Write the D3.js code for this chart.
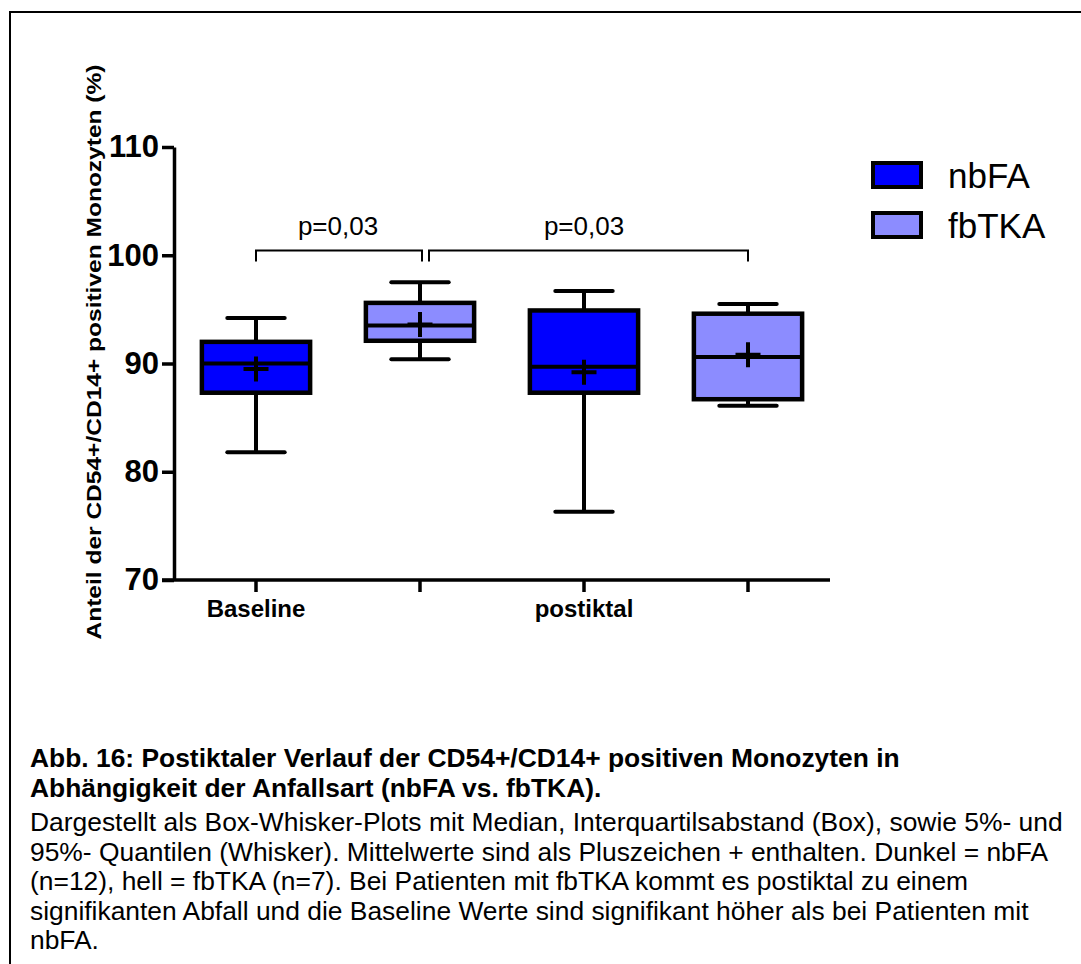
<!DOCTYPE html>
<html>
<head>
<meta charset="utf-8">
<script src="https://cdn.jsdelivr.net/npm/d3@7"></script>
<style>
  body { margin: 0; background: #fff; }
  svg { display: block; font-family: Arial, "Liberation Sans", sans-serif; }
</style>
</head>
<body>
<div id="chart"></div>
<script>
// data
const categories = ["Baseline", "postiktal"];
const series = ["nbFA", "fbTKA"];
const seriesColors = ["#0000ff", "#8c8cff"];
// one entry per box: [category, series]
const boxKeys = [["Baseline", "nbFA"], ["Baseline", "fbTKA"], ["postiktal", "nbFA"], ["postiktal", "fbTKA"]];
const whiskerLow = [81.8, 90.4, 76.3, 86.1];
const q1 = [87.3, 92.1, 87.3, 86.7];
const median = [90.0, 93.5, 89.7, 90.6];
const q3 = [92.0, 95.6, 94.9, 94.6];
const whiskerHigh = [94.2, 97.5, 96.7, 95.5];
const means = [89.5, 93.6, 89.2, 90.8];
const yTicks = [70, 80, 90, 100, 110];
const sigBrackets = [
  { from: 0, to: 1, label: "p=0,03" },
  { from: 1, to: 3, label: "p=0,03" }
];
const yTitle = "Anteil der CD54+/CD14+ positiven Monozyten (%)";
const captionBold = [
  "Abb. 16: Postiktaler Verlauf der CD54+/CD14+ positiven Monozyten in",
  "Abhängigkeit der Anfallsart (nbFA vs. fbTKA)."
];
const captionBody = [
  "Dargestellt als Box-Whisker-Plots mit Median, Interquartilsabstand (Box), sowie 5%- und",
  "95%- Quantilen (Whisker). Mittelwerte sind als Pluszeichen + enthalten. Dunkel = nbFA",
  "(n=12), hell = fbTKA (n=7). Bei Patienten mit fbTKA kommt es postiktal zu einem",
  "signifikanten Abfall und die Baseline Werte sind signifikant höher als bei Patienten mit",
  "nbFA."
];

const WIDTH = 1081, HEIGHT = 964;
const MARGIN = { LEFT: 174, TOP: 147, RIGHT: 251, BOTTOM: 384 };
const PLOT_W = WIDTH - MARGIN.LEFT - MARGIN.RIGHT;
const PLOT_H = HEIGHT - MARGIN.TOP - MARGIN.BOTTOM;
const FONT = "Arial, 'Liberation Sans', sans-serif";

const svg = d3.select("#chart").append("svg")
  .attr("width", WIDTH)
  .attr("height", HEIGHT);

// frame round the figure
svg.append("path")
  .attr("d", `M10,${HEIGHT} V12 H${WIDTH}`)
  .attr("fill", "none")
  .attr("stroke", "#000")
  .attr("stroke-width", 2);

const g = svg.append("g")
  .attr("transform", `translate(${MARGIN.LEFT}, ${MARGIN.TOP})`);

const keys = boxKeys.map((d) => d.join("|"));
const x = d3.scaleBand().domain(keys).range([0, PLOT_W]).padding(0);
const y = d3.scaleLinear().domain([70, 110]).range([PLOT_H, 0]);
const color = d3.scaleOrdinal().domain(series).range(seriesColors);
const boxW = x.bandwidth() * 0.66;
const capW = boxW * 0.53;
const plusHalf = 12.5;

// axes
const yAxis = g.append("g")
  .call(d3.axisLeft(y).tickValues(yTicks).tickSize(12).tickSizeOuter(0).tickPadding(3));
yAxis.select(".domain").attr("stroke-width", 3.5);
yAxis.selectAll(".tick line").attr("stroke-width", 3.5);
yAxis.selectAll(".tick text")
  .attr("font-size", 31).attr("font-weight", "bold")
  .attr("font-family", FONT)
  .attr("fill", "#000");

const xAxis = g.append("g")
  .attr("transform", `translate(0, ${PLOT_H})`)
  .call(d3.axisBottom(x).tickSize(12).tickSizeOuter(0).tickPadding(8)
    .tickFormat((k) => {
      const [cat, ser] = k.split("|");
      return ser === series[0] ? cat : "";
    }));
xAxis.select(".domain").attr("stroke-width", 3.5).attr("d", `M-12,0H${PLOT_W}`);
xAxis.selectAll(".tick line").attr("stroke-width", 3.5);
xAxis.selectAll(".tick text")
  .attr("font-size", 24).attr("font-weight", "bold")
  .attr("font-family", FONT)
  .attr("fill", "#000");

// y-axis title
svg.append("text")
  .attr("transform", "translate(101, 352) rotate(-90)")
  .attr("text-anchor", "middle")
  .attr("font-size", 21)
  .attr("font-weight", "bold")
  .attr("textLength", 575)
  .attr("lengthAdjust", "spacingAndGlyphs")
  .text(yTitle);

// boxes
const boxes = g.selectAll(".box")
  .data(boxKeys.map((k, i) => ({
    key: keys[i], series: k[1],
    lo: whiskerLow[i], q1: q1[i], med: median[i], q3: q3[i], hi: whiskerHigh[i], mean: means[i]
  })))
  .join("g")
  .attr("class", "box")
  .attr("transform", (d) => `translate(${x(d.key) + x.bandwidth() / 2}, 0)`);

boxes.append("line")
  .attr("y1", (d) => y(d.hi)).attr("y2", (d) => y(d.q3))
  .attr("stroke", "#000").attr("stroke-width", 4);
boxes.append("line")
  .attr("y1", (d) => y(d.q1)).attr("y2", (d) => y(d.lo))
  .attr("stroke", "#000").attr("stroke-width", 4);
boxes.append("line")
  .attr("x1", -capW / 2).attr("x2", capW / 2)
  .attr("y1", (d) => y(d.hi)).attr("y2", (d) => y(d.hi))
  .attr("stroke", "#000").attr("stroke-width", 4).attr("stroke-linecap", "round");
boxes.append("line")
  .attr("x1", -capW / 2).attr("x2", capW / 2)
  .attr("y1", (d) => y(d.lo)).attr("y2", (d) => y(d.lo))
  .attr("stroke", "#000").attr("stroke-width", 4).attr("stroke-linecap", "round");
boxes.append("rect")
  .attr("x", -boxW / 2).attr("width", boxW)
  .attr("y", (d) => y(d.q3)).attr("height", (d) => y(d.q1) - y(d.q3))
  .attr("fill", (d) => color(d.series))
  .attr("stroke", "#000").attr("stroke-width", 4.5);
boxes.append("line")
  .attr("x1", -boxW / 2).attr("x2", boxW / 2)
  .attr("y1", (d) => y(d.med)).attr("y2", (d) => y(d.med))
  .attr("stroke", "#000").attr("stroke-width", 4);
// mean as plus sign
boxes.append("path")
  .attr("d", (d) => `M${-plusHalf},${y(d.mean)}H${plusHalf}M0,${y(d.mean) - plusHalf}V${y(d.mean) + plusHalf}`)
  .attr("stroke", "#000").attr("stroke-width", 4).attr("fill", "none");

// significance brackets
const bracketY = y(100.45);
const br = g.selectAll(".bracket")
  .data(sigBrackets)
  .join("g")
  .attr("class", "bracket");
br.append("path")
  .attr("d", (d, i) => {
    const x1 = x(keys[d.from]) + x.bandwidth() / 2 + (i === 0 ? 0 : 9);
    const x2 = x(keys[d.to]) + x.bandwidth() / 2 + (i === 0 ? 2 : 0);
    return `M${x1},${bracketY + 11}V${bracketY}H${x2}V${bracketY + 11}`;
  })
  .attr("fill", "none").attr("stroke", "#000").attr("stroke-width", 2);
br.append("text")
  .attr("x", (d) => (x(keys[d.from]) + x(keys[d.to])) / 2 + x.bandwidth() / 2)
  .attr("y", bracketY - 15)
  .attr("text-anchor", "middle")
  .attr("font-size", 26)
  .text((d) => d.label);

// legend
const legend = svg.selectAll(".legend")
  .data(series)
  .join("g")
  .attr("class", "legend")
  .attr("transform", (d, i) => `translate(873, ${163 + i * 50})`);
legend.append("rect")
  .attr("width", 48).attr("height", 24)
  .attr("fill", (d) => color(d))
  .attr("stroke", "#000").attr("stroke-width", 4);
legend.append("text")
  .attr("x", 75).attr("y", 25)
  .attr("font-size", 35)
  .text((d) => d);

// caption
const cap = svg.append("g").attr("transform", "translate(30, 0)");
cap.selectAll(".cb")
  .data(captionBold)
  .join("text")
  .attr("class", "cb")
  .attr("y", (d, i) => 767 + i * 29.5)
  .attr("font-size", 26.4)
  .attr("font-weight", "bold")
  .text((d) => d);
cap.selectAll(".cn")
  .data(captionBody)
  .join("text")
  .attr("class", "cn")
  .attr("y", (d, i) => 831 + i * 29.5)
  .attr("font-size", 26.4)
  .text((d) => d);
</script>
</body>
</html>
